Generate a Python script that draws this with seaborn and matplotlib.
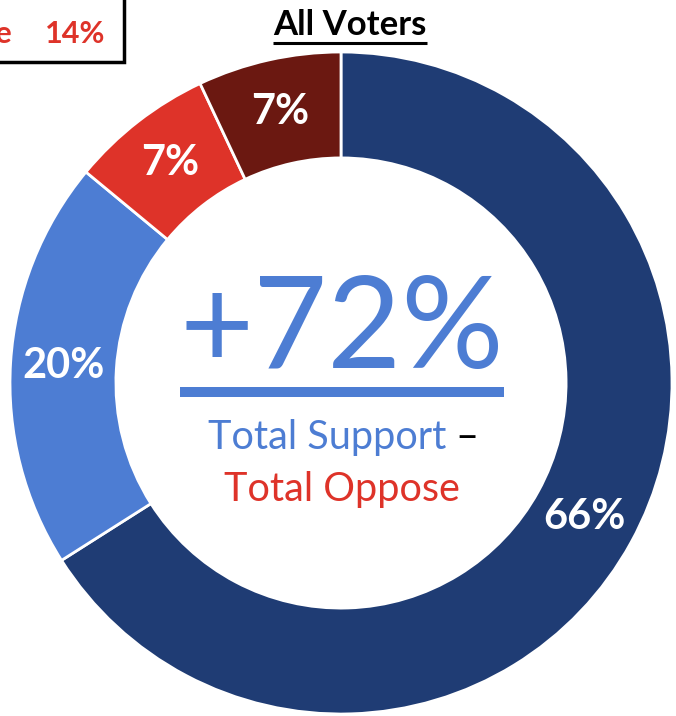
import matplotlib
matplotlib.use("Agg")
import matplotlib.pyplot as plt
import seaborn as sns
from matplotlib.patches import Rectangle

# chart data
segments = ["Strongly support", "Somewhat support", "Somewhat oppose", "Strongly oppose"]
shares = [66, 20, 7, 7]
colors = ["#1F3C74", "#4D7DD3", "#DE3329", "#6B1811"]
net_label = "+72%"
title = "All Voters"
legend_tail = ["Oppose", "14%"]

BLUE = "#4D7DD3"
RED = "#DE3329"

sns.set_theme(style="white")
plt.rcParams['font.family'] = ['Lato', 'DejaVu Sans']

W, H = 676, 716
fig = plt.figure(figsize=(W / 100, H / 100), dpi=100)
ax = fig.add_axes([0, 0, 1, 1])

def py(y):
    # pixel row (from top) -> data y
    return H - y

# donut
wedges, _, pct_texts = ax.pie(
    shares, colors=colors, startangle=90, counterclock=False,
    center=(341, py(383)), radius=331,
    autopct=lambda p: f"{p:.0f}%", pctdistance=0.84,
    wedgeprops=dict(width=331 * 0.32, edgecolor="white", linewidth=2),
    frame=True,
)
ax.set_xlim(0, W)
ax.set_ylim(0, H)
ax.set_aspect('equal')
ax.axis('off')
for t in pct_texts:
    t.set_color("white")
    t.set_fontsize(30)
    t.set_fontweight("bold")

# center text
big = ax.text(342, py(332), net_label, color=BLUE, fontsize=92, ha="center", va="center")
ax.text(327, py(437), "Total Support", color=BLUE, fontsize=28.5, ha="center", va="center")
ax.text(455, py(437), "–", color="black", fontsize=28.5, ha="left", va="center")
ax.text(342, py(489), "Total Oppose", color=RED, fontsize=28.5, ha="center", va="center")

# title
ttl = ax.text(350, py(25), title, color="black", fontsize=25, fontweight="bold", ha="center", va="center")

# cropped legend box in top left
ax.add_patch(Rectangle((-20, py(62)), 144, 100, fill=False, edgecolor="black", linewidth=2.5, clip_on=False))
ax.text(13, py(34), legend_tail[0], color=RED, fontsize=22, fontweight="bold", ha="right", va="center")
ax.text(45, py(34), legend_tail[1], color=RED, fontsize=22, fontweight="bold", ha="left", va="center")

# underlines measured from the rendered text
fig.canvas.draw()
inv = ax.transData.inverted()
bb = big.get_window_extent()
(x0, _), (x1, _) = inv.transform([(bb.x0, 0), (bb.x1, 0)])
ax.plot([x0, x1], [py(392), py(392)], color=BLUE, lw=7.2, solid_capstyle="butt")
bb = ttl.get_window_extent()
(x0, _), (x1, _) = inv.transform([(bb.x0, 0), (bb.x1, 0)])
ax.plot([x0, x1], [py(43), py(43)], color="black", lw=2.2, solid_capstyle="butt")

fig.savefig("out.png", dpi=100, facecolor="white")
